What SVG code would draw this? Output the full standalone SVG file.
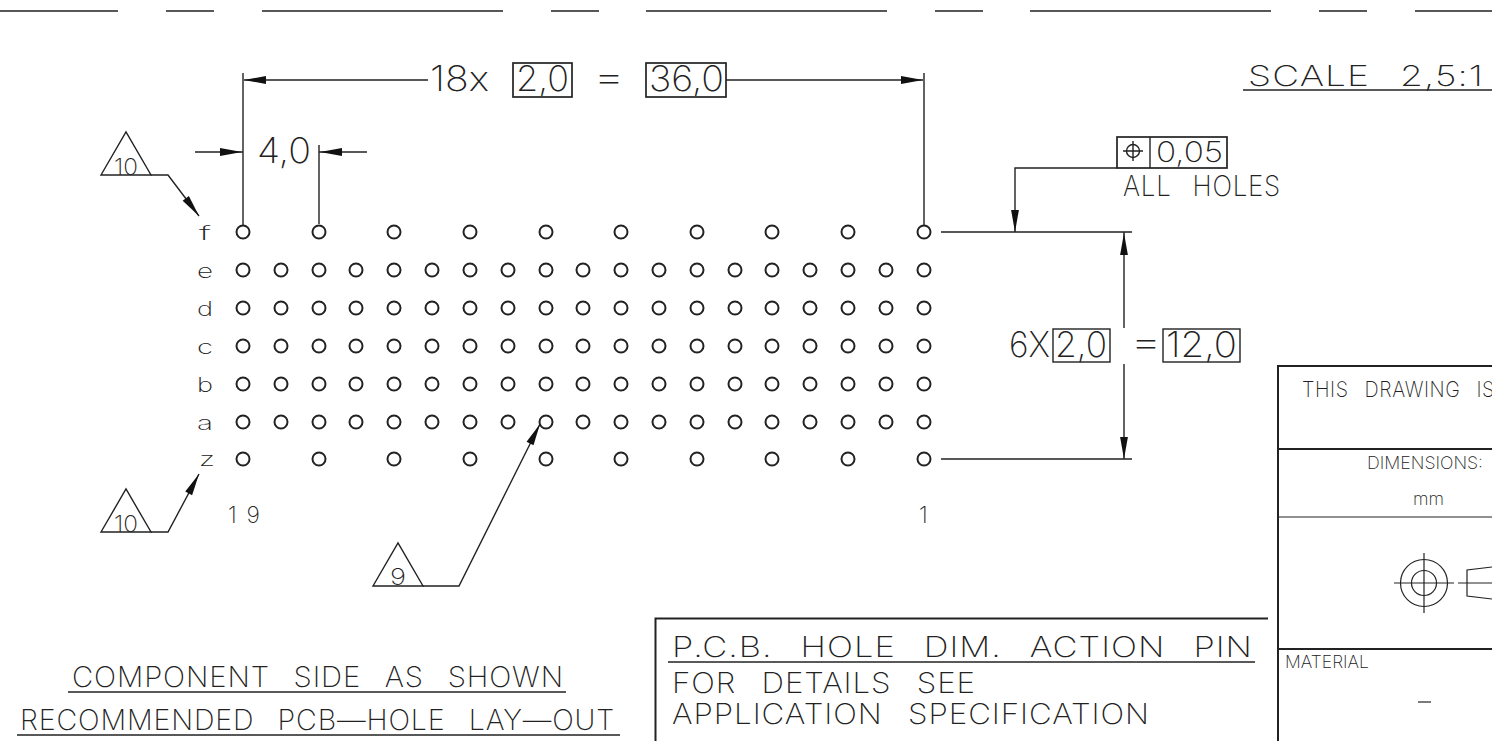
<svg xmlns="http://www.w3.org/2000/svg" xmlns:xlink="http://www.w3.org/1999/xlink" width="1492" height="741" viewBox="0 0 1492 741">
<style>
text{font-family:"Inter","Liberation Sans",sans-serif;font-weight:200;fill:#222}
.p{word-spacing:.5em;letter-spacing:.03em}
.l{fill:none;stroke:#222;stroke-width:1.4}
.b{fill:none;stroke:#222;stroke-width:1.7}
.w{fill:none;stroke:#222;stroke-width:2}
.t{fill:none;stroke:#222;stroke-width:1.2}
.h{fill:none;stroke:#222;stroke-width:2}
.s17{font-size:17px}.s20{font-size:20px}.s23{font-size:23px}.s21{font-size:21px}.s28{font-size:28px}.s35{font-size:35px}
</style>
<defs>
<circle id="hole" r="6.5" class="h"/>
<path id="ah" d="M0 0L-22 -3.9L-22 3.900Z" fill="#111"/>
</defs>
<rect width="1492" height="741" fill="#fff"/>
<g id="border-dashes"><path class="l" d="M0 11H118M166 11H214M262 11H503M551 11H599M646 11H887M935 11H983M1030 11H1271M1319 11H1367M1415 11H1492"/></g>
<g id="holes">
<g id="row-f"><use href="#hole" x="243" y="232"/><use href="#hole" x="319" y="232"/><use href="#hole" x="394" y="232"/><use href="#hole" x="470" y="232"/><use href="#hole" x="546" y="232"/><use href="#hole" x="621" y="232"/><use href="#hole" x="697" y="232"/><use href="#hole" x="772" y="232"/><use href="#hole" x="848" y="232"/><use href="#hole" x="924" y="232"/></g>
<g id="row-e"><use href="#hole" x="243" y="270"/><use href="#hole" x="281" y="270"/><use href="#hole" x="319" y="270"/><use href="#hole" x="356" y="270"/><use href="#hole" x="394" y="270"/><use href="#hole" x="432" y="270"/><use href="#hole" x="470" y="270"/><use href="#hole" x="508" y="270"/><use href="#hole" x="546" y="270"/><use href="#hole" x="583" y="270"/><use href="#hole" x="621" y="270"/><use href="#hole" x="659" y="270"/><use href="#hole" x="697" y="270"/><use href="#hole" x="735" y="270"/><use href="#hole" x="772" y="270"/><use href="#hole" x="810" y="270"/><use href="#hole" x="848" y="270"/><use href="#hole" x="886" y="270"/><use href="#hole" x="924" y="270"/></g>
<g id="row-d"><use href="#hole" x="243" y="308"/><use href="#hole" x="281" y="308"/><use href="#hole" x="319" y="308"/><use href="#hole" x="356" y="308"/><use href="#hole" x="394" y="308"/><use href="#hole" x="432" y="308"/><use href="#hole" x="470" y="308"/><use href="#hole" x="508" y="308"/><use href="#hole" x="546" y="308"/><use href="#hole" x="583" y="308"/><use href="#hole" x="621" y="308"/><use href="#hole" x="659" y="308"/><use href="#hole" x="697" y="308"/><use href="#hole" x="735" y="308"/><use href="#hole" x="772" y="308"/><use href="#hole" x="810" y="308"/><use href="#hole" x="848" y="308"/><use href="#hole" x="886" y="308"/><use href="#hole" x="924" y="308"/></g>
<g id="row-c"><use href="#hole" x="243" y="346"/><use href="#hole" x="281" y="346"/><use href="#hole" x="319" y="346"/><use href="#hole" x="356" y="346"/><use href="#hole" x="394" y="346"/><use href="#hole" x="432" y="346"/><use href="#hole" x="470" y="346"/><use href="#hole" x="508" y="346"/><use href="#hole" x="546" y="346"/><use href="#hole" x="583" y="346"/><use href="#hole" x="621" y="346"/><use href="#hole" x="659" y="346"/><use href="#hole" x="697" y="346"/><use href="#hole" x="735" y="346"/><use href="#hole" x="772" y="346"/><use href="#hole" x="810" y="346"/><use href="#hole" x="848" y="346"/><use href="#hole" x="886" y="346"/><use href="#hole" x="924" y="346"/></g>
<g id="row-b"><use href="#hole" x="243" y="384"/><use href="#hole" x="281" y="384"/><use href="#hole" x="319" y="384"/><use href="#hole" x="356" y="384"/><use href="#hole" x="394" y="384"/><use href="#hole" x="432" y="384"/><use href="#hole" x="470" y="384"/><use href="#hole" x="508" y="384"/><use href="#hole" x="546" y="384"/><use href="#hole" x="583" y="384"/><use href="#hole" x="621" y="384"/><use href="#hole" x="659" y="384"/><use href="#hole" x="697" y="384"/><use href="#hole" x="735" y="384"/><use href="#hole" x="772" y="384"/><use href="#hole" x="810" y="384"/><use href="#hole" x="848" y="384"/><use href="#hole" x="886" y="384"/><use href="#hole" x="924" y="384"/></g>
<g id="row-a"><use href="#hole" x="243" y="422"/><use href="#hole" x="281" y="422"/><use href="#hole" x="319" y="422"/><use href="#hole" x="356" y="422"/><use href="#hole" x="394" y="422"/><use href="#hole" x="432" y="422"/><use href="#hole" x="470" y="422"/><use href="#hole" x="508" y="422"/><use href="#hole" x="546" y="422"/><use href="#hole" x="583" y="422"/><use href="#hole" x="621" y="422"/><use href="#hole" x="659" y="422"/><use href="#hole" x="697" y="422"/><use href="#hole" x="735" y="422"/><use href="#hole" x="772" y="422"/><use href="#hole" x="810" y="422"/><use href="#hole" x="848" y="422"/><use href="#hole" x="886" y="422"/><use href="#hole" x="924" y="422"/></g>
<g id="row-z"><use href="#hole" x="243" y="459"/><use href="#hole" x="319" y="459"/><use href="#hole" x="394" y="459"/><use href="#hole" x="470" y="459"/><use href="#hole" x="546" y="459"/><use href="#hole" x="621" y="459"/><use href="#hole" x="697" y="459"/><use href="#hole" x="772" y="459"/><use href="#hole" x="848" y="459"/><use href="#hole" x="924" y="459"/></g>
</g>
<g id="row-labels">
<text class="s20" x="199" y="240" textLength="12" lengthAdjust="spacingAndGlyphs">f</text>
<text class="s20" x="197" y="278" textLength="16" lengthAdjust="spacingAndGlyphs">e</text>
<text class="s20" x="197" y="316" textLength="16" lengthAdjust="spacingAndGlyphs">d</text>
<text class="s20" x="197" y="354" textLength="16" lengthAdjust="spacingAndGlyphs">c</text>
<text class="s20" x="197" y="392" textLength="16" lengthAdjust="spacingAndGlyphs">b</text>
<text class="s20" x="197" y="430" textLength="16" lengthAdjust="spacingAndGlyphs">a</text>
<text class="s20" x="199" y="466" textLength="16" lengthAdjust="spacingAndGlyphs">z</text>
<text class="s23" x="228" y="523" textLength="32" lengthAdjust="spacing">19</text>
<text class="s23" x="919" y="523">1</text>
</g>
<g id="connectors">
<path class="l" d="M243 73V225M319 145V224M924 73V225"/>
<path class="l" d="M244 80H428M726 80H923"/>
<use href="#ah" transform="translate(244 80) rotate(180)"/>
<use href="#ah" transform="translate(923 80)"/>
<path class="l" d="M195 152H243M319 152H367"/>
<use href="#ah" transform="translate(242 152)"/>
<use href="#ah" transform="translate(320 152) rotate(180)"/>
<path class="l" d="M151 175H168L199 216"/>
<use href="#ah" transform="translate(199 216) rotate(53)"/>
<path class="l" d="M151 532H168L199 474"/>
<use href="#ah" transform="translate(199 474) rotate(-62)"/>
<path class="l" d="M423 586H459L540 424"/>
<use href="#ah" transform="translate(540 424) rotate(-63)"/>
<path class="l" d="M1117 168H1015V232"/>
<use href="#ah" transform="translate(1015 232) rotate(90)"/>
<path class="l" d="M941 232H1132M941 459H1132M1124 232V328M1124 364V459"/>
<use href="#ah" transform="translate(1124 233) rotate(-90)"/>
<use href="#ah" transform="translate(1124 459) rotate(90)"/>
</g>
<g id="callout-10-top"><path class="l" d="M101 175L126 132L151 175Z"/><text x="114" y="175" font-size="23" textLength="24" lengthAdjust="spacingAndGlyphs">10</text></g>
<g id="callout-10-bottom"><path class="l" d="M101 532L126 489L151 532Z"/><text x="114" y="532" font-size="23" textLength="24" lengthAdjust="spacingAndGlyphs">10</text></g>
<g id="callout-9"><path class="l" d="M373 586L398 543L423 586Z"/><text x="390" y="585" font-size="23" textLength="16" lengthAdjust="spacingAndGlyphs">9</text></g>
<g id="dim-pitch"><text class="s35" x="430" y="91" textLength="59" lengthAdjust="spacingAndGlyphs">18x</text>
<rect class="b" x="513" y="63" width="59" height="34"/><text class="s35" x="516" y="91" textLength="53" lengthAdjust="spacingAndGlyphs">2,0</text>
<text class="s35" x="593" y="89" textLength="32" lengthAdjust="spacingAndGlyphs">=</text>
<rect class="b" x="646" y="63" width="80" height="34"/><text class="s35" x="649" y="91" textLength="75" lengthAdjust="spacingAndGlyphs">36,0</text></g>
<g id="dim-4"><text class="s35" x="257" y="163" textLength="54" lengthAdjust="spacingAndGlyphs">4,0</text></g>
<g id="scale"><text class="s28 p" x="1248" y="86" textLength="236" lengthAdjust="spacingAndGlyphs">SCALE 2,5:1</text><path class="l" d="M1243 90H1492"/></g>
<g id="position-tolerance"><rect class="b" x="1117" y="137" width="110" height="31"/><path class="l" d="M1150 137V168"/>
<circle class="l" cx="1133" cy="151" r="6.5"/><path class="l" d="M1123 151H1143M1133 141V161"/>
<text class="s28" x="1156" y="162" textLength="67" lengthAdjust="spacingAndGlyphs">0,05</text>
<text class="s28 p" x="1123" y="196" textLength="158" lengthAdjust="spacingAndGlyphs">ALL HOLES</text></g>
<g id="dim-height"><text class="s35" x="1009" y="357" textLength="41" lengthAdjust="spacingAndGlyphs">6X</text>
<rect class="l" x="1053" y="329" width="57" height="33"/><text class="s35" x="1055" y="357" textLength="52" lengthAdjust="spacingAndGlyphs">2,0</text>
<text class="s35" x="1130" y="354" textLength="32" lengthAdjust="spacingAndGlyphs">=</text>
<rect class="l" x="1163" y="329" width="77" height="33"/><text class="s35" x="1166" y="357" textLength="71" lengthAdjust="spacingAndGlyphs">12,0</text></g>
<g id="title-left"><text class="s28 p" x="72" y="687" textLength="492" lengthAdjust="spacingAndGlyphs">COMPONENT SIDE AS SHOWN</text><path class="l" d="M68 692H566"/>
<text class="s28 p" x="20" y="730" textLength="595" lengthAdjust="spacingAndGlyphs">RECOMMENDED PCB—HOLE LAY—OUT</text><path class="l" d="M17 735H620"/></g>
<g id="note-box"><path class="w" d="M655.500 741V618.500H1268"/><text class="s28 p" x="672" y="657" textLength="581" lengthAdjust="spacingAndGlyphs">P.C.B. HOLE DIM. ACTION PIN</text><path class="l" d="M668 662H1255"/>
<text class="s28 p" x="672" y="693" textLength="304" lengthAdjust="spacingAndGlyphs">FOR DETAILS SEE</text>
<text class="s28 p" x="672" y="724" textLength="478" lengthAdjust="spacingAndGlyphs">APPLICATION SPECIFICATION</text></g>
<g id="title-block"><path class="w" d="M1278 741V366H1492M1278 649H1492"/><path class="w" d="M1278 449H1492"/><path class="t" d="M1278 517H1492"/>
<text class="s21 p" x="1302" y="397" textLength="193" lengthAdjust="spacingAndGlyphs">THIS DRAWING IS</text>
<text class="s17" x="1367" y="469" textLength="116" lengthAdjust="spacingAndGlyphs">DIMENSIONS:</text>
<text class="s17" x="1413" y="505" textLength="31" lengthAdjust="spacingAndGlyphs">mm</text>
<circle class="t" cx="1424" cy="583" r="23.500"/><circle class="t" cx="1424" cy="583" r="12.500"/><path class="t" d="M1394 583H1454M1424 553V613M1458 583H1492M1492 567L1467 570V596L1492 599"/>
<text class="s17" x="1285" y="668" textLength="84" lengthAdjust="spacingAndGlyphs">MATERIAL</text>
<path class="t" d="M1418 702H1431"/></g>
</svg>
